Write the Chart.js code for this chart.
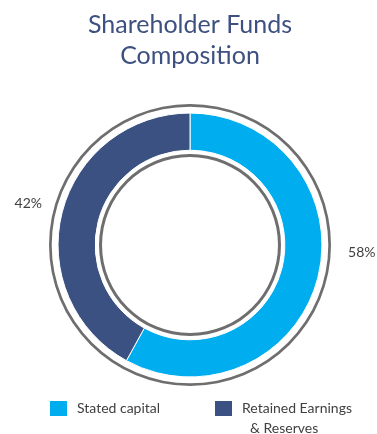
<!DOCTYPE html>
<html>
<head>
<meta charset="utf-8">
<script src="https://cdn.jsdelivr.net/npm/chart.js@4.4.0/dist/chart.umd.min.js"></script>
<style>
  body { margin: 0; background: #fff; }
  #wrap { position: relative; width: 377px; height: 434px; }
  #legend {
    position: absolute; left: 50px; top: 399px;
    display: flex; align-items: flex-start;
    font-family: Lato, "Open Sans", sans-serif; font-size: 14px; color: #404040;
  }
  .item { display: flex; align-items: flex-start; }
  .item:first-child { width: 165px; }
  .box { width: 17px; height: 15px; margin: 2px 10px 0 0; flex: none; }
  .txt { max-width: 108px; line-height: 20px; margin-top: -1px; padding-left: 8px; text-indent: -8px; }
</style>
</head>
<body>
<div id="wrap">
  <canvas id="chart" width="377" height="434"></canvas>
  <div id="legend"></div>
</div>
<script>
// Data
const categories = ['Stated capital', 'Retained Earnings & Reserves'];
const shares = [58, 42];
const sliceColors = ['#00AEEF', '#3B5181'];
const titleLines = ['Shareholder Funds', 'Composition'];

const ringGrey = '#6e6e6e';

// thin decorative ring (or a blank gap) around the data ring
function ring(weight, color) {
  return { data: [1], backgroundColor: [color], borderWidth: 0, hoverOffset: 0, weight };
}

// percentage labels outside the ring
const pctLabels = {
  id: 'pctLabels',
  afterDatasetsDraw(chart, args, opts) {
    const meta = chart.getDatasetMeta(opts.datasetIndex);
    const outer = chart.getDatasetMeta(0).data[0].outerRadius;
    const values = chart.data.datasets[opts.datasetIndex].data;
    const ctx = chart.ctx;
    ctx.save();
    ctx.font = opts.font;
    ctx.fillStyle = opts.color;
    ctx.textAlign = 'center';
    ctx.textBaseline = 'middle';
    meta.data.forEach((arc, i) => {
      const mid = (arc.startAngle + arc.endAngle) / 2;
      const r = outer + opts.offset;
      const n = opts.nudge[i] || { x: 0, y: 0 };
      ctx.fillText(values[i] + '%', arc.x + Math.cos(mid) * r + n.x, arc.y + Math.sin(mid) * r + n.y);
    });
    ctx.restore();
  }
};

const chart = new Chart(document.getElementById('chart'), {
  type: 'doughnut',
  data: {
    labels: categories,
    datasets: [
      ring(2.7, ringGrey),
      ring(6.3, 'rgba(0,0,0,0)'),
      { label: 'Share', data: shares, backgroundColor: sliceColors, borderColor: '#ffffff',
        borderWidth: 1, hoverOffset: 0, weight: 37 },
      ring(3.8, 'rgba(0,0,0,0)'),
      ring(3, ringGrey)
    ]
  },
  plugins: [pctLabels],
  options: {
    responsive: false,
    animation: false,
    cutout: '62.4%',
    layout: { padding: { top: 0, bottom: 47, left: 49, right: 46 } },
    plugins: {
      legend: { display: false },
      tooltip: { enabled: false },
      title: {
        display: true,
        text: titleLines,
        color: '#3D5080',
        font: { family: 'Lato', size: 25, weight: 'normal', lineHeight: 1.24 },
        padding: { top: 9, bottom: 32 }
      },
      pctLabels: {
        datasetIndex: 2,
        offset: 26,
        font: '14px Lato',
        color: '#404040',
        nudge: [{ x: 10, y: -34 }, { x: 0, y: 0 }]
      }
    }
  }
});

// HTML legend built from the data ring
const legendEl = document.getElementById('legend');
categories.forEach((name, i) => {
  const item = document.createElement('div');
  item.className = 'item';
  const box = document.createElement('span');
  box.className = 'box';
  box.style.background = sliceColors[i];
  const txt = document.createElement('span');
  txt.className = 'txt';
  txt.textContent = name;
  item.appendChild(box);
  item.appendChild(txt);
  legendEl.appendChild(item);
});
</script>
</body>
</html>
